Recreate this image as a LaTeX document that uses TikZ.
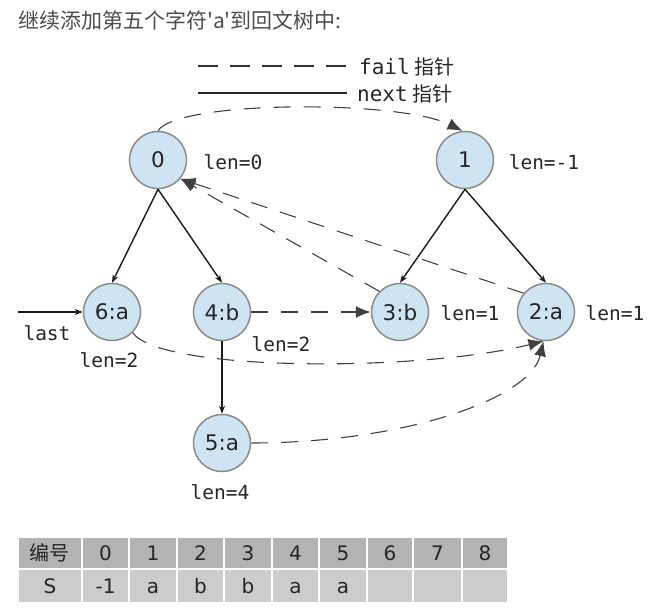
\documentclass[tikz,border=0pt]{standalone}
\usepackage{fontspec}
\setmainfont{DejaVu Sans}
\newfontfamily\cjk[Ligatures=TeXOff]{Noto Sans CJK SC}
\newfontfamily\monof[Ligatures=TeXOff]{DejaVu Sans Mono}
\usetikzlibrary{arrows.meta}
\definecolor{nodefill}{HTML}{CFE4F3}
\definecolor{nodeline}{HTML}{8A8A8A}
\definecolor{hdrgray}{HTML}{B3B3B3}
\definecolor{bodygray}{HTML}{CCCCCC}
\begin{document}
\begin{tikzpicture}[x=1pt,y=-1pt,
  state/.style={circle,draw=nodeline,line width=1.5pt,fill=nodefill,minimum size=57pt,inner sep=0pt,
    font=\fontsize{21.5}{21.5}\selectfont,text=black!85},
  lbl/.style={font=\monof\fontsize{19.5}{20}\selectfont,text=black!85,inner sep=0pt},
  nextedge/.style={draw=black!90,line width=1.4pt,-{Stealth[length=8pt,width=6pt]}},
  failedge/.style={draw=black!75,line width=1.1pt,dash pattern=on 17pt off 13pt,-{Latex[length=15pt,width=12pt]}},
  cell/.style={font=\fontsize{20}{20}\selectfont,text=black!85,inner sep=0pt,anchor=base}]
\useasboundingbox (0,0) rectangle (649,615);
% title
\node[anchor=west,font=\cjk\fontsize{21}{21}\selectfont,text=black!70,inner sep=0pt] (title) at (18,20) {继续添加第五个字符'a'到回文树中:};
% legend
\coordinate (lfa) at (198,66);
\coordinate (lfb) at (347,66);
\coordinate (lna) at (198,93);
\coordinate (lnb) at (347,93);
\draw[draw=black!80,line width=1.3pt,dash pattern=on 20pt off 12pt] (lfa) -- (lfb);
\draw[draw=black!85,line width=1.4pt] (lna) -- (lnb);
\node[anchor=west,inner sep=0pt,text=black!85] (lft) at (359,67) {\monof\fontsize{21}{21}\selectfont fail\hspace{5pt}\cjk\fontsize{20}{20}\selectfont 指针};
\node[anchor=west,inner sep=0pt,text=black!85] (lnt) at (357,94) {\monof\fontsize{21}{21}\selectfont next\hspace{5pt}\cjk\fontsize{20}{20}\selectfont 指针};
% nodes
\node[state] (n0) at (158,160) {0};
\node[state] (n1) at (465,160) {1};
\node[state] (n6) at (112,312) {6:a};
\node[state] (n4) at (222,312) {4:b};
\node[state] (n3) at (400,312) {3:b};
\node[state] (n2) at (546,312) {2:a};
\node[state] (n5) at (222,443) {5:a};
% labels
\node[lbl] (l0) at (233,162) {len=0};
\node[lbl] (l1) at (544,162) {len=-1};
\node[lbl] (l3) at (470,313) {len=1};
\node[lbl] (l2) at (615,313) {len=1};
\node[lbl] (l4) at (281,344) {len=2};
\node[lbl] (l6) at (109,360) {len=2};
\node[lbl] (l5) at (220,492) {len=4};
\node[lbl] (last) at (47,333) {last};
\coordinate (lastst) at (18,312);
% next edges
\draw[nextedge] (n0.south) -- (n6.north);
\draw[nextedge] (n0.south) -- (n4.north);
\draw[nextedge] (n1.south) -- (n3.north);
\draw[nextedge] (n1.south) -- (n2.north);
\draw[nextedge] (n4.south) -- (n5.north);
\draw[nextedge] (lastst) -- (n6.west);
% fail edges
\draw[failedge] (n0.north) .. controls (178,100) and (400,100) .. (n1.95);
\draw[failedge] (n3.135) -- (n0.-40);
\draw[failedge] (n2.140) -- (n0.-40);
\draw[failedge] (n4.east) -- (n3.west);
\draw[failedge] (n6.-45) .. controls (160,372) and (420,372) .. (n2.-95);
\draw[failedge] (n5.east) .. controls (400,443) and (530,400) .. (n2.-95);
% table
\foreach \i/\xl/\xr/\hd/\sv in {0/18/82/{\cjk\fontsize{20}{20}\selectfont 编号}/S,1/82/129/0/-1,2/129/177/1/a,3/177/224/2/b,4/224/272/3/b,5/272/319/4/a,6/319/367/5/a,7/367/413/6/{},8/413/462/7/{},9/462/508/8/{}}{
  \fill[hdrgray] (\xl,537) rectangle (\xr,569);
  \fill[bodygray] (\xl,569) rectangle (\xr,603);
  \draw[white,line width=2pt] (\xl,537) rectangle (\xr,569);
  \draw[white,line width=2pt] (\xl,569) rectangle (\xr,603);
  \node[cell] (h\i) at ({(\xl+\xr)/2},560) {\hd};
  \node[cell] (s\i) at ({(\xl+\xr)/2},593) {\sv};
}
\end{tikzpicture}
\end{document}
